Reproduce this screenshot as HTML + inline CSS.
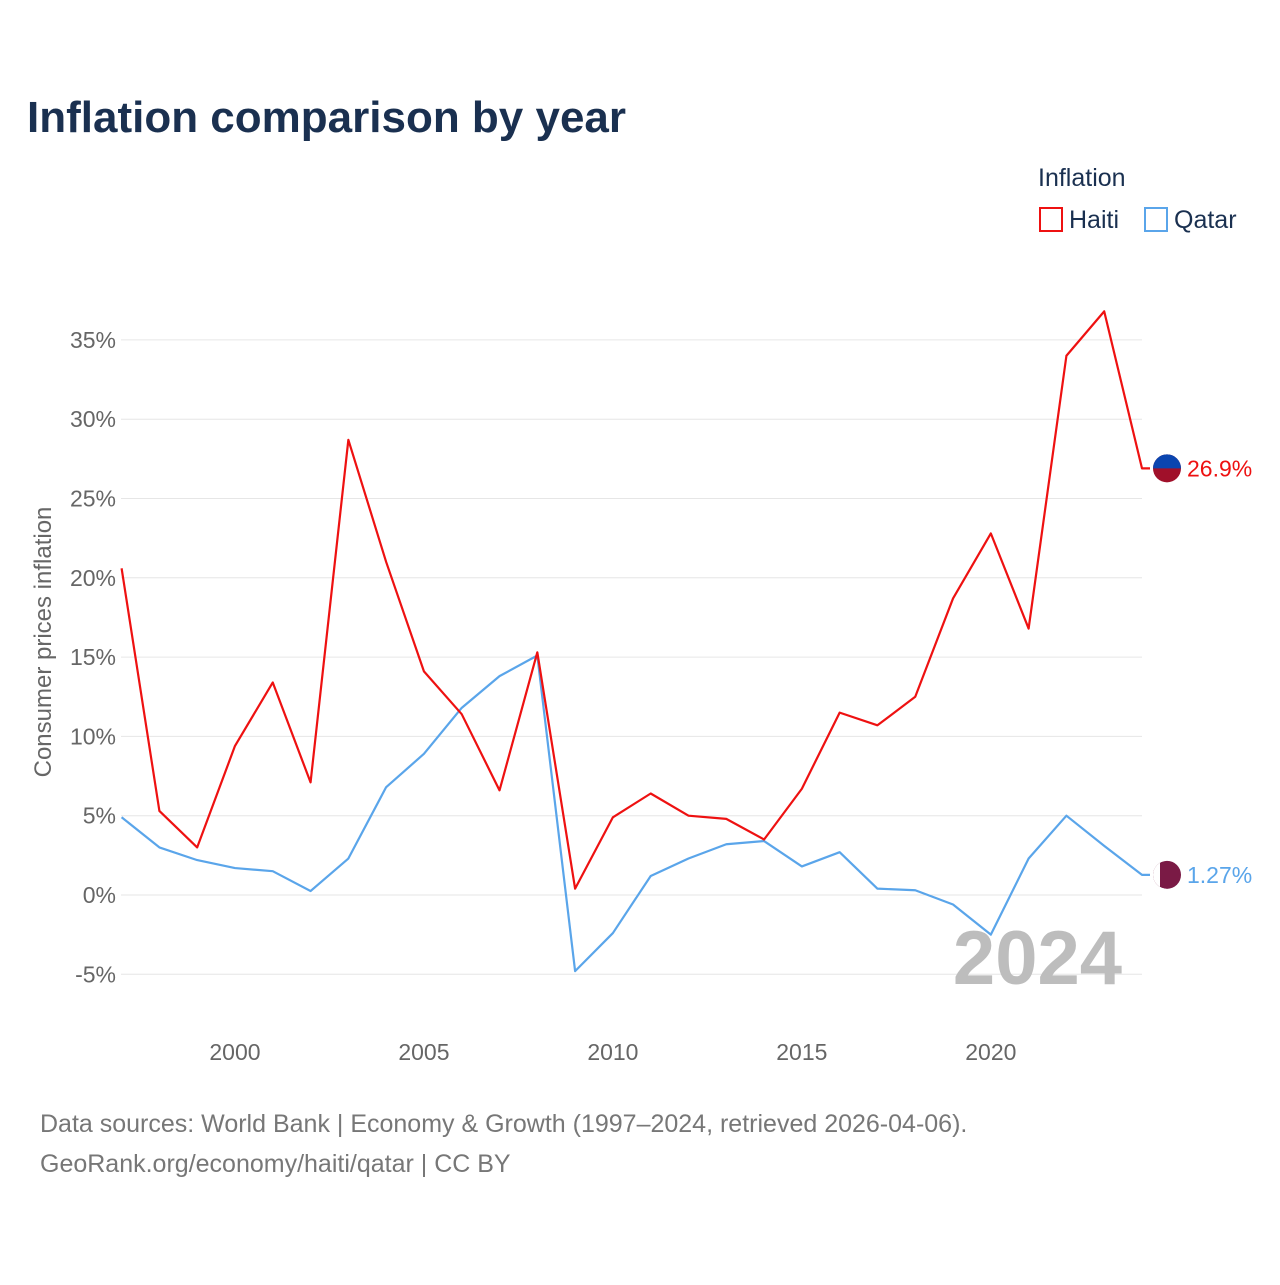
<!DOCTYPE html>
<html><head><meta charset="utf-8"><style>
body{margin:0;background:#fff;width:1280px;height:1280px;overflow:hidden;font-family:"Liberation Sans",sans-serif}
svg text{font-family:"Liberation Sans",sans-serif}
</style></head><body>
<svg id="chart" width="1280" height="1280">
<text x="27" y="132" font-size="44" font-weight="bold" fill="#1a3050">Inflation comparison by year</text>
<text x="1038" y="186" font-size="25" fill="#1a3050">Inflation</text>
<g><rect x="1040" y="208" width="22" height="23" fill="none" stroke="#ee1111" stroke-width="2"/><text x="1069" y="228" font-size="25" fill="#1a3050">Haiti</text></g>
<g><rect x="1145" y="208" width="22" height="23" fill="none" stroke="#5aa5ea" stroke-width="2"/><text x="1174" y="228" font-size="25" fill="#1a3050">Qatar</text></g>
<g id="grid"></g><g id="lines"></g>
<text x="1122" y="984" font-size="76" font-weight="bold" fill="#bdbdbd" text-anchor="end">2024</text>
<text transform="translate(51,642) rotate(-90)" font-size="24" fill="#666" text-anchor="middle">Consumer prices inflation</text>
<text x="40" y="1132" font-size="25" fill="#777">Data sources: World Bank | Economy &amp; Growth (1997–2024, retrieved 2026-04-06).</text>
<text x="40" y="1172" font-size="25" fill="#777">GeoRank.org/economy/haiti/qatar | CC BY</text>
</svg>
<script>
const years=[1997,1998,1999,2000,2001,2002,2003,2004,2005,2006,2007,2008,2009,2010,2011,2012,2013,2014,2015,2016,2017,2018,2019,2020,2021,2022,2023,2024];
const haiti=[20.6,5.3,3.0,9.4,13.4,7.1,28.7,21.0,14.1,11.4,6.6,15.3,0.4,4.9,6.4,5.0,4.8,3.5,6.7,11.5,10.7,12.5,18.7,22.8,16.8,34.0,36.8,26.9];
const qatar=[4.9,3.0,2.2,1.7,1.5,0.25,2.3,6.8,8.9,11.8,13.8,15.1,-4.8,-2.4,1.2,2.3,3.2,3.4,1.8,2.7,0.4,0.3,-0.6,-2.5,2.3,5.0,3.1,1.27];
const yTicks=[-5,0,5,10,15,20,25,30,35];
const xTicks=[2000,2005,2010,2015,2020];
const NS="http://www.w3.org/2000/svg";
const x=v=>121.6+(v-1997)*(1142-121.6)/27;
const y=v=>895-v*15.86;
const grid=document.getElementById('grid'),lines=document.getElementById('lines');
function mk(tag,attrs,parent){const e=document.createElementNS(NS,tag);for(const k in attrs)e.setAttribute(k,attrs[k]);parent.appendChild(e);return e;}
yTicks.forEach(t=>{
 const l=mk('line',{x1:121,x2:1142,y1:y(t),y2:y(t),stroke:'#e6e6e6','stroke-width':1},grid);
 
 
 const tx=mk('text',{x:116,y:y(t)+8,'font-size':23,fill:'#666','text-anchor':'end'},grid);
 tx.textContent=t+'%';
 
 
});
xTicks.forEach(t=>{
 const tx=mk('text',{x:x(t),y:1060,'font-size':23,fill:'#666','text-anchor':'middle'},grid);
 tx.textContent=t;
 
 
});
function series(vals,color,name,label){
 const d=vals.map((v,i)=>(i?'L':'M')+x(years[i])+','+y(v)).join('')+'L1150,'+y(vals[vals.length-1]);
 const p=mk('path',{d:d,fill:'none',stroke:color,'stroke-width':2.2,'stroke-linejoin':'round'},lines);
 
 
 const yy=y(vals[vals.length-1]);
 const c=mk('circle',{cx:1167,cy:yy,r:14,fill:name==='haiti'?'#a0102a':'#7a1a45'},lines);
 
 
 if(name==='haiti'){const h=mk('path',{d:`M1153,${yy}A14,14 0 0 1 1181,${yy}Z`,fill:'#0a45b0'},lines);}
 else{const h=mk('path',{d:`M1167,${yy-14}A14,14 0 0 0 1167,${yy+14}L1160,${yy+14}L1160,${yy-14}Z`,fill:'#fff'},lines);}
 const t=mk('text',{x:1187,y:yy+8,'font-size':23,fill:color},lines);
 t.textContent=label;
 
 
}
series(qatar,'#5aa5ea','qatar','1.27%');
series(haiti,'#ee1111','haiti','26.9%');
</script>
</body></html>
